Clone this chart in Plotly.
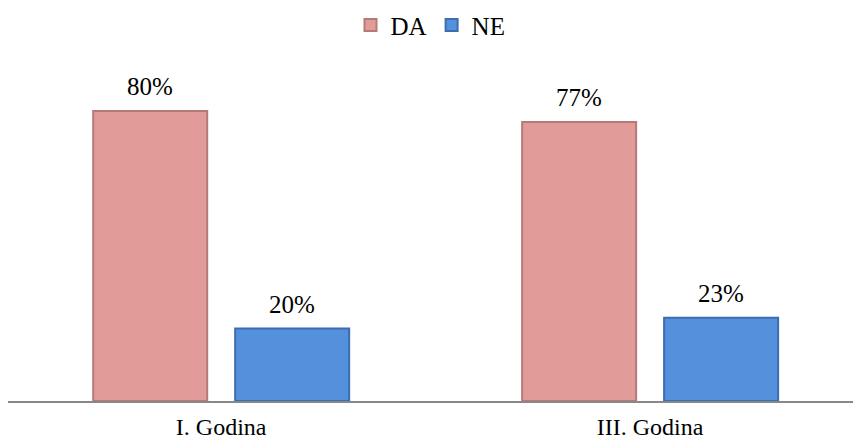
import plotly.graph_objects as go

categories = ["I. Godina", "III. Godina"]
da_values = [80, 77]
ne_values = [20, 23]
series_names = ["DA", "NE"]

FONT = '"Liberation Serif", "Times New Roman", serif'
SIZE = 25

fig = go.Figure()
fig.add_trace(go.Bar(
    name=series_names[0], x=categories, y=da_values,
    marker=dict(color="#E19C9A", line=dict(color="#B57977", width=2)),
))
fig.add_trace(go.Bar(
    name=series_names[1], x=categories, y=ne_values,
    marker=dict(color="#5490DB", line=dict(color="#3B6EB0", width=2)),
))

# percentage labels sit a little above each bar, shifted onto its group slot
for values, shift in ((da_values, -71), (ne_values, 71)):
    for cat, v in zip(categories, values):
        fig.add_annotation(
            x=cat, y=v, text=f"{v}%", showarrow=False,
            xshift=shift, yshift=9, yanchor="bottom",
            font=dict(family=FONT, size=SIZE, color="#000000"),
        )

fig.update_layout(
    width=853, height=443,
    margin=dict(l=8, r=0, t=60, b=42, autoexpand=False),
    paper_bgcolor="white", plot_bgcolor="white",
    barmode="group", bargap=0.338, bargroupgap=0.197,
    font=dict(family=FONT, size=SIZE, color="#000000"),
    legend=dict(orientation="h", x=0.5, xanchor="center", y=0.995, yanchor="top",
                yref="container", font=dict(family=FONT, size=SIZE),
                itemwidth=30, traceorder="normal", tracegroupgap=0),
    showlegend=True,
)
fig.update_xaxes(
    range=[-0.497, 1.473], showline=True, linecolor="#888888", linewidth=2,
    ticks="", showgrid=False, tickfont=dict(family=FONT, size=24),
    ticklabelstandoff=3, automargin=False,
)
fig.update_yaxes(range=[0, 94.1], visible=False, showgrid=False, automargin=False)

fig.write_html("out.html")
